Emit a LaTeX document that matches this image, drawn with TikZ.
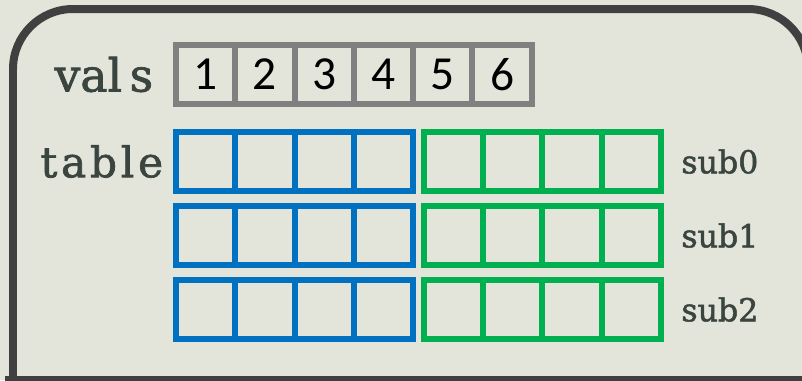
\documentclass[tikz,border=0pt]{standalone}
\usepackage{fontspec}
\setmainfont{DejaVu Serif}[FakeBold=1.6, AutoFakeBold=1.6]
\newfontfamily\labelfont[FakeBold=1.6]{DejaVu Serif}
\newfontfamily\digitfont{Carlito}
\newfontfamily\tablefont[LetterSpace=9, FakeBold=1.6]{DejaVu Serif}
\usepackage{tikz}
\usetikzlibrary{positioning}
\usepackage{xcolor}
\definecolor{paper}{HTML}{E3E5DA}
\definecolor{frameline}{HTML}{404040}
\definecolor{labeltext}{HTML}{3B4540}
\definecolor{valline}{HTML}{808080}
\definecolor{bluew}{HTML}{0070C0}
\definecolor{greenw}{HTML}{00B050}

\begin{document}
\begin{tikzpicture}[
  x=0.02cm, y=-0.02cm,
  cell/.style={draw, line width=0.12cm, minimum size=1.186cm, inner sep=0pt, outer sep=0pt},
  valcell/.style={cell, draw=valline, font=\digitfont\fontsize{27}{30}\selectfont},
  bluecell/.style={cell, draw=bluew},
  greencell/.style={cell, draw=greenw},
  biglabel/.style={text=labeltext, inner sep=0pt, font=\labelfont\fontsize{26}{30}\selectfont},
  sublabel/.style={text=labeltext, inner sep=0pt, font=\labelfont\fontsize{18}{20}\selectfont}
]
\useasboundingbox (0,0) rectangle (802,380);
\fill[paper] (0,0) rectangle (802,380);
\clip (0,0) rectangle (802,380);

% frame
\draw[frameline, line width=0.16cm, rounded corners=1.2cm] (13,400) -- (13,9) -- (808,9) -- (808,400);
\draw[frameline, line width=0.16cm] (5,380) -- (812,380);

% vals
\node[valcell] (v1) at (205.6,74.5) {1};
\foreach \i [remember=\i as \j (initially 1)] in {2,...,6}
  \node[valcell, right=0pt of v\j] (v\i) {\i};
\node[biglabel, left=0.45cm of v1] (vals) {val\hspace{0.15cm}s};

% table rows
\foreach \r/\y in {0/161.5, 1/235.5, 2/309.5} {
  \node[bluecell] (b\r c1) at (205.6,\y) {};
  \foreach \i [remember=\i as \j (initially 1)] in {2,3,4}
    \node[bluecell, right=0pt of b\r c\j] (b\r c\i) {};
  \node[greencell, right=0.216cm of b\r c4] (g\r c1) {};
  \foreach \i [remember=\i as \j (initially 1)] in {2,3,4}
    \node[greencell, right=0pt of g\r c\j] (g\r c\i) {};
  \node[sublabel, right=0.4cm of g\r c4] (sub\r) {sub\r};
}
\node[biglabel, font=\tablefont\fontsize{24}{28}\selectfont, left=0.25cm of b0c1] (table) {table};
\end{tikzpicture}
\end{document}
